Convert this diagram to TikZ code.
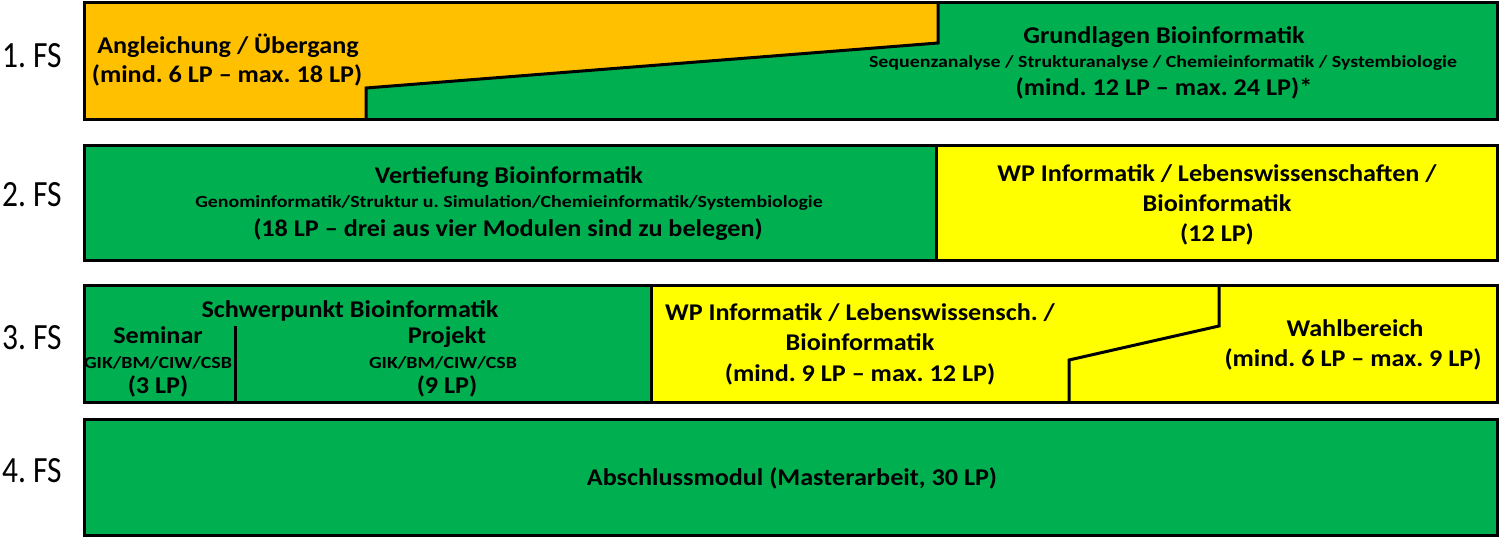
\documentclass[tikz,border=0pt]{standalone}
\usepackage{fontspec}
\setmainfont{Carlito}
\newfontfamily\fsfont[FakeStretch=0.85]{Carlito}
\newfontfamily\boxfont[FakeStretch=1.09,Ligatures=TeX]{Carlito}
\newfontfamily\subfont[FakeStretch=1.17,Ligatures=TeX]{Carlito}
\usepackage{xcolor}
\usepackage{tikz}
\usetikzlibrary{calc}
\frenchspacing

\definecolor{orangeLP}{HTML}{FFC000}
\definecolor{greenLP}{HTML}{00B050}
\definecolor{yellowLP}{HTML}{FFFF00}

\tikzset{
  fs/.style={anchor=base west, inner sep=0pt, font=\fsfont\fontsize{37}{37}\selectfont},
  ttl/.style={anchor=base, inner sep=0pt, font=\boxfont\bfseries\fontsize{24}{24}\selectfont},
  sub/.style={anchor=base, inner sep=0pt, font=\subfont\bfseries\fontsize{17}{17}\selectfont},
  box/.style={draw=black, line width=3pt},
  edge/.style={draw=black, line width=3pt, line join=miter}
}

\begin{document}
\begin{tikzpicture}[x=1pt, y=-1pt]
\useasboundingbox (0,0) rectangle (1502,538);

% 1. FS
\fill[orangeLP] (83,2) -- (938,2) -- (938,43) -- (366,88) -- (366,119) -- (83,119) -- cycle;
\fill[greenLP] (938,2) -- (1497,2) -- (1497,119) -- (366,119) -- (366,88) -- (938,43) -- cycle;
\draw[edge] (938,2) -- (938,43) -- (366,88) -- (366,119);
\draw[box] (84,2) rectangle (1497,119);

% 2. FS
\fill[greenLP] (84,145) rectangle (936,260);
\fill[yellowLP] (936,145) rectangle (1497,260);
\draw[edge] (936,145) -- (936,260);
\draw[box] (84,145) rectangle (1497,260);

% 3. FS
\fill[greenLP] (84,285) rectangle (651,402);
\fill[yellowLP] (651,285) rectangle (1497,402);
\draw[edge] (235,326) -- (235,402);
\draw[edge] (651,285) -- (651,402);
\draw[edge] (1219,285) -- (1219,326) -- (1069,360) -- (1069,402);
\draw[box] (84,285) rectangle (1497,402);

% 4. FS
\fill[greenLP] (84,419) rectangle (1497,535);
\draw[box] (84,419) rectangle (1497,535);

% Semester
\node[fs] (fs1) at(2,67) {1. FS};
\node[fs] (fs2) at(2,206) {2. FS};
\node[fs] (fs3) at(2,349) {3. FS};
\node[fs] (fs4) at(2,482) {4. FS};

% Angleichung
\node[ttl] (angl1) at(228,53) {Angleichung / Übergang};
\node[ttl] (angl2) at(227,82) {(mind. 6 LP – max. 18 LP)};

% Grundlagen
\node[ttl] (grund1) at(1164,43) {Grundlagen Bioinformatik};
\node[sub] (grund2) at(1163,67) {Sequenzanalyse / Strukturanalyse / Chemieinformatik / Systembiologie};
\node[ttl] (grund3) at(1164,95) {(mind. 12 LP – max. 24 LP)*};

% Vertiefung
\node[ttl] (vert1) at(509,183) {Vertiefung Bioinformatik};
\node[sub] (vert2) at(509,207) {Genominformatik/Struktur u. Simulation/Chemieinformatik/Systembiologie};
\node[ttl] (vert3) at(508,236) {(18 LP – drei aus vier Modulen sind zu belegen)};

% WP 2. FS
\node[ttl] (wpa1) at(1217,181) {WP Informatik / Lebenswissenschaften /};
\node[ttl] (wpa2) at(1217,211) {Bioinformatik};
\node[ttl] (wpa3) at(1217,241) {(12 LP)};

% Schwerpunkt
\node[ttl] (schw) at(350,317) {Schwerpunkt Bioinformatik};
\node[ttl] (sem1) at(158,343) {Seminar};
\node[sub] (sem2) at(158,368) {GIK/BM/CIW/CSB};
\node[ttl] (sem3) at(158,393) {(3 LP)};
\node[ttl] (proj1) at(447,343) {Projekt};
\node[sub] (proj2) at(443,368) {GIK/BM/CIW/CSB};
\node[ttl] (proj3) at(447,393) {(9 LP)};

% WP 3. FS
\node[ttl] (wpb1) at(860,320) {WP Informatik / Lebenswissensch. /};
\node[ttl] (wpb2) at(860,350) {Bioinformatik};
\node[ttl] (wpb3) at(860,381) {(mind. 9 LP – max. 12 LP)};

% Wahlbereich
\node[ttl] (wahl1) at(1355,336) {Wahlbereich};
\node[ttl] (wahl2) at(1353,366) {(mind. 6 LP – max. 9 LP)};

% Abschluss
\node[ttl] (absch) at(792,485) {Abschlussmodul (Masterarbeit, 30 LP)};
\end{tikzpicture}
\end{document}
